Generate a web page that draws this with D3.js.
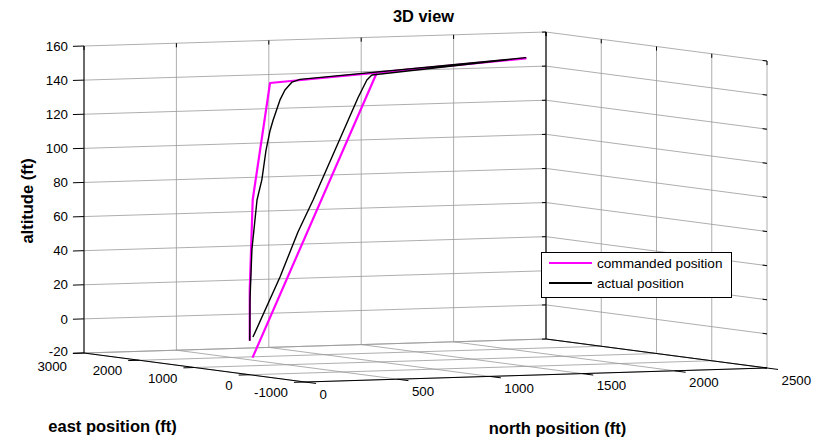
<!DOCTYPE html>
<html>
<head>
<meta charset="utf-8">
<script src="https://cdn.jsdelivr.net/npm/d3@7"></script>
<style>
  body { margin: 0; background: #fff; }
  text { font-family: "Liberation Sans", Arial, sans-serif; fill: #000; }
</style>
</head>
<body>
<div id="chart"></div>
<script>
// axis ticks
const northTicks = [0, 500, 1000, 1500, 2000, 2500];
const eastTicks = [-1000, 0, 1000, 2000, 3000];
const altTicks = [-20, 0, 20, 40, 60, 80, 100, 120, 140, 160];

// commanded position (ft)
const cmdNorth = [0, 0, 48, 322, 2270, 1136, 15];
const cmdEast = [0, 0, 107, 710, 2600, 1500, 0];
const cmdAlt = [0, 30, 82, 147, 147, 147, -10];

// actual position (ft)
const actNorth = [0, 4, 35, 115, 193, 258, 322, 345, 398, 436, 490, 550, 2270, 1092, 1047, 967, 561, 425, 263, 19];
const actEast = [0, 9, 78, 253, 426, 568, 710, 732, 784, 821, 873, 931, 2600, 1442, 1382, 1273, 730, 549, 332, 6];
const actAlt = [0, 24, 53, 81, 92, 108.5, 119, 125, 136.5, 142, 146.3, 147.4, 147.4, 146, 143.5, 134, 77.5, 60, 35, 2];

const width = 830, height = 447;

// screen placement of the box: front-bottom corner and the three edge vectors
const corner = [305, 382];
const northSpan = [462, -14];
const eastSpan = [-221, -29];
const altSpan = 307;

const sN = d3.scaleLinear().domain([0, 2500]).range([0, 1]);
const sE = d3.scaleLinear().domain([-1000, 3000]).range([0, 1]);
const sZ = d3.scaleLinear().domain([-20, 160]).range([0, 1]);

function proj(n, e, z) {
  const a = sN(n), b = sE(e), c = sZ(z);
  return [corner[0] + a * northSpan[0] + b * eastSpan[0],
          corner[1] + a * northSpan[1] + b * eastSpan[1] - c * altSpan];
}

const svg = d3.select("#chart").append("svg")
  .attr("width", width)
  .attr("height", height)
  .style("background", "#fff");

function seg(g, p, q, color, w) {
  g.append("line")
    .attr("x1", p[0]).attr("y1", p[1])
    .attr("x2", q[0]).attr("y2", q[1])
    .attr("stroke", color)
    .attr("stroke-width", w);
}

const [nMin, nMax] = sN.domain();
const [eMin, eMax] = sE.domain();
const [zMin, zMax] = sZ.domain();

// grid on the two back walls and the floor
const grid = svg.append("g");
const gridColor = "#999";
northTicks.forEach(n => {
  seg(grid, proj(n, eMax, zMin), proj(n, eMax, zMax), gridColor, 0.8);
  seg(grid, proj(n, eMin, zMin), proj(n, eMax, zMin), gridColor, 0.8);
});
eastTicks.forEach(e => {
  seg(grid, proj(nMax, e, zMin), proj(nMax, e, zMax), gridColor, 0.8);
  seg(grid, proj(nMin, e, zMin), proj(nMax, e, zMin), gridColor, 0.8);
});
altTicks.forEach(z => {
  seg(grid, proj(nMin, eMax, z), proj(nMax, eMax, z), gridColor, 0.8);
  seg(grid, proj(nMax, eMin, z), proj(nMax, eMax, z), gridColor, 0.8);
});

// box edges and axis lines
const box = svg.append("g");
seg(box, proj(nMin, eMax, zMin), proj(nMin, eMax, zMax), "#000", 1);
seg(box, proj(nMax, eMax, zMin), proj(nMax, eMax, zMax), "#000", 1);
seg(box, proj(nMax, eMax, zMin), proj(nMax, eMin, zMin), "#000", 1);
seg(box, proj(nMin, eMin, zMin), proj(nMin, eMax, zMin), "#000", 1);
seg(box, proj(nMin, eMin, zMin), proj(nMax, eMin, zMin), "#000", 1);

// tick marks
altTicks.forEach(z => {
  seg(box, proj(nMin, eMax, z), proj(nMin - 60, eMax, z), "#000", 1);
  seg(box, proj(nMax, eMax, z), proj(nMax - 22, eMax, z), "#000", 1);
  seg(box, proj(nMax, eMin, z), proj(nMax, eMin + 80, z), "#000", 1);
});
eastTicks.forEach(e => {
  seg(box, proj(nMin, e, zMin), proj(nMin - 60, e, zMin), "#000", 1);
  seg(box, proj(nMax, e, zMax), proj(nMax, e, zMax - 2.4), "#000", 1);
});
northTicks.forEach(n => {
  seg(box, proj(n, eMin, zMin), proj(n, eMin - 200, zMin), "#000", 1);
  seg(box, proj(n, eMax, zMax), proj(n, eMax, zMax - 2.4), "#000", 1);
});

// tick labels
const labels = svg.append("g").style("font-size", "13.3px");
altTicks.forEach(z => {
  const p = proj(nMin, eMax, z);
  labels.append("text")
    .attr("x", 68).attr("y", p[1] - (z === zMin ? 2 : 0))
    .attr("dy", "0.35em")
    .attr("text-anchor", "end")
    .text(z);
});
eastTicks.forEach(e => {
  const p = proj(nMin, e, zMin);
  labels.append("text")
    .attr("x", p[0] - 17).attr("y", p[1] + 10.5 + (e === eMax ? 2.5 : 0))
    .attr("dy", "0.35em")
    .attr("text-anchor", "end")
    .text(e);
});
northTicks.forEach(n => {
  const p = proj(n, eMin, zMin);
  labels.append("text")
    .attr("x", p[0] + 14.5).attr("y", p[1] + 12)
    .attr("dy", "0.35em")
    .attr("text-anchor", "start")
    .text(n);
});

// titles
svg.append("text")
  .attr("x", 423.5).attr("y", 22)
  .attr("text-anchor", "middle")
  .style("font-size", "16.4px").style("font-weight", "bold")
  .text("3D view");
svg.append("text")
  .attr("x", 112.5).attr("y", 432)
  .attr("text-anchor", "middle")
  .style("font-size", "16.5px").style("font-weight", "bold")
  .text("east position (ft)");
svg.append("text")
  .attr("x", 557.5).attr("y", 434)
  .attr("text-anchor", "middle")
  .style("font-size", "16.5px").style("font-weight", "bold")
  .text("north position (ft)");
svg.append("text")
  .attr("transform", "translate(33,201) rotate(-90)")
  .attr("text-anchor", "middle")
  .style("font-size", "16.5px").style("font-weight", "bold")
  .text("altitude (ft)");

// trajectories
const line = d3.line().x(d => d[0]).y(d => d[1]);
const cmdPts = cmdNorth.map((n, i) => proj(n, cmdEast[i], cmdAlt[i]));
const actPts = actNorth.map((n, i) => proj(n, actEast[i], actAlt[i]));

svg.append("path")
  .attr("d", line(cmdPts))
  .attr("fill", "none")
  .attr("stroke", "#ff00ff")
  .attr("stroke-width", 2.2)
  .attr("stroke-linejoin", "round");
svg.append("path")
  .attr("d", line(actPts))
  .attr("fill", "none")
  .attr("stroke", "#000")
  .attr("stroke-width", 1.4)
  .attr("stroke-linejoin", "round");

// legend
const legend = svg.append("g").style("font-size", "13.6px");
legend.append("rect")
  .attr("x", 541.5).attr("y", 252.5)
  .attr("width", 190).attr("height", 45)
  .attr("fill", "#fff").attr("stroke", "#000").attr("stroke-width", 1);
const legendItems = [
  { name: "commanded position", color: "#ff00ff" },
  { name: "actual position", color: "#000" }
];
legendItems.forEach((d, i) => {
  const y = 263 + i * 20;
  legend.append("line")
    .attr("x1", 549).attr("x2", 592)
    .attr("y1", y).attr("y2", y)
    .attr("stroke", d.color).attr("stroke-width", 2);
  legend.append("text")
    .attr("x", 597).attr("y", y)
    .attr("dy", "0.35em")
    .text(d.name);
});
</script>
</body>
</html>
